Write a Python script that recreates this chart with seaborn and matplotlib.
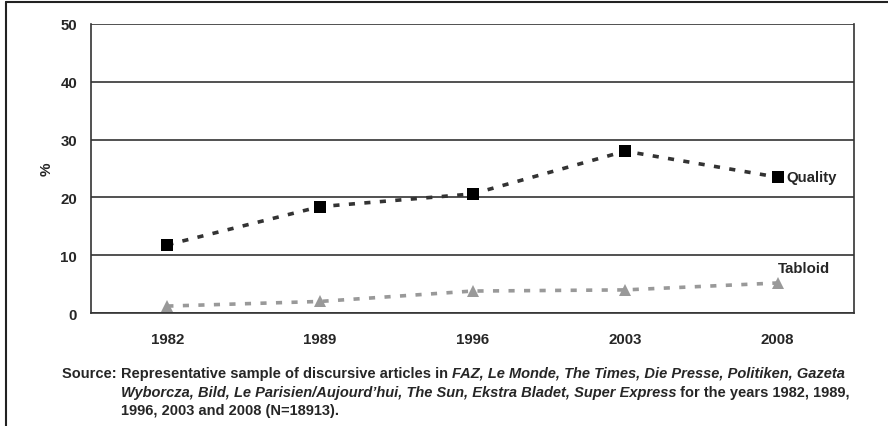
import matplotlib
matplotlib.use("Agg")
import matplotlib.pyplot as plt
import pandas as pd
import seaborn as sns
from matplotlib.lines import Line2D

years = ["1982", "1989", "1996", "2003", "2008"]
quality = [11.8, 18.4, 20.6, 28.0, 23.5]
tabloid = [1.2, 2.0, 3.8, 4.0, 5.2]

df = pd.concat([
    pd.DataFrame({"year": years, "pct": quality, "type": "Quality"}),
    pd.DataFrame({"year": years, "pct": tabloid, "type": "Tabloid"}),
])

sns.set_style("white")
plt.rcParams["font.family"] = ["Liberation Sans", "DejaVu Sans"]

fig = plt.figure(figsize=(8.88, 4.27), dpi=100)
ax = fig.add_axes([0.1025, 0.2646, 0.8592, 0.6769])

sns.lineplot(data=df, x="year", y="pct", hue="type", style="type",
             palette={"Quality": "#333333", "Tabloid": "#999999"},
             markers={"Quality": "s", "Tabloid": "^"},
             dashes={"Quality": (1.7, 2.6), "Tabloid": (1.7, 2.6)},
             linewidth=2.6, markersize=9, markeredgewidth=0,
             legend=False, ax=ax, zorder=3)
# quality markers are black, line is dark grey
for ln in ax.lines:
    if ln.get_marker() == "s":
        ln.set_markerfacecolor("black")

ax.set_xlim(-0.5, 4.5)
ax.set_ylim(0, 50)
ax.set_yticks([0, 10, 20, 30, 40, 50])
ax.yaxis.grid(True, color="#333333", linewidth=1.2)
ax.set_axisbelow(True)
ax.set_xticks(range(len(years)))
ax.set_xticklabels(years)
ax.set_xticks([i - 0.5 for i in range(len(years) + 1)], minor=True)
ax.tick_params(axis="x", which="major", length=0, pad=14)
ax.tick_params(axis="x", which="minor", length=5, width=1.2, color="#333333", direction="out")
ax.tick_params(axis="y", length=5, width=1.2, color="#333333", direction="out", pad=5)
for lab in ax.get_xticklabels() + ax.get_yticklabels():
    lab.set_fontweight("bold")
    lab.set_fontsize(10.8)
for s in ["left", "right", "bottom"]:
    ax.spines[s].set_color("#333333")
    ax.spines[s].set_linewidth(1.2)
ax.spines["top"].set_visible(False)
ax.set_xlabel("")
ax.set_ylabel("%", fontweight="bold", fontsize=11, labelpad=5)

ax.annotate("Quality", (4, quality[-1]), xytext=(6, 0), textcoords="offset points",
            ha="left", va="center", fontsize=10.8, fontweight="bold")
ax.annotate("Tabloid", (4, tabloid[-1]), xytext=(0, 11), textcoords="offset points",
            ha="left", va="center", fontsize=10.8, fontweight="bold")

# figure frame (top and left only)
fig.add_artist(Line2D([0.007, 0.007], [0, 0.993], color="#222222", lw=1.5))
fig.add_artist(Line2D([0.007, 1.0], [0.993, 0.993], color="#222222", lw=1.5))

# source note with mixed italics
lines = [
    [("Source: ", "normal"), ("Representative sample of discursive articles in ", "normal"),
     ("FAZ, Le Monde, The Times, Die Presse, Politiken, Gazeta", "italic")],
    [("Wyborcza, Bild, Le Parisien/Aujourd\u2019hui, The Sun, Ekstra Bladet, Super Express", "italic"),
     (" for the years 1982, 1989,", "normal")],
    [("1996, 2003 and 2008 (N=18913).", "normal")],
]
starts = [62, 121, 121]
baselines = [378, 397, 415]
fig.canvas.draw()
renderer = fig.canvas.get_renderer()
W, H = fig.bbox.width, fig.bbox.height
for segs, x0, yb in zip(lines, starts, baselines):
    x = x0
    for txt, style in segs:
        t = fig.text(x / W, 1 - yb / H, txt, fontsize=10.55, fontweight="bold",
                     fontstyle=style, ha="left", va="baseline")
        x += t.get_window_extent(renderer).width

fig.savefig("out.png", dpi=100)
